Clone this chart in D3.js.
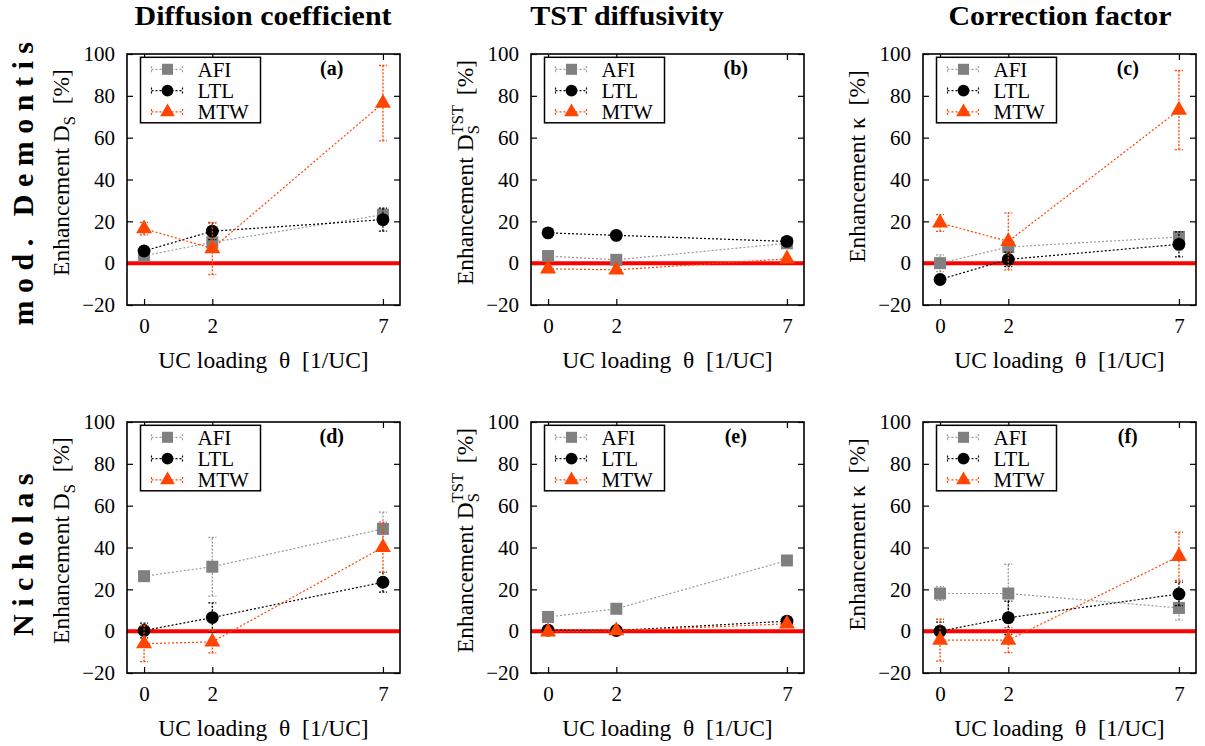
<!DOCTYPE html>
<html>
<head>
<meta charset="utf-8">
<script src="https://cdn.jsdelivr.net/npm/d3@7"></script>
<style>
  body { margin: 0; background: #fff; }
  svg text { font-family: "Liberation Serif", "Times New Roman", Times, serif; fill: #000; }
</style>
</head>
<body>
<svg id="fig" width="1205" height="746"></svg>
<script>
// ---- data ----------------------------------------------------------
const loadings = [0, 2, 7];                       // UC loading θ [1/UC]
const zeolites = ["AFI", "LTL", "MTW"];
const columnTitles = ["Diffusion coefficient", "TST diffusivity", "Correction factor"];
const rowTitles = ["mod. Demontis", "Nicholas"];
const panelTags = ["(a)", "(b)", "(c)", "(d)", "(e)", "(f)"];
const yTicks = [-20, 0, 20, 40, 60, 80, 100];

// enhancement in %, one row per zeolite (AFI, LTL, MTW), one column per loading
const demontisDs       = [[3.5, 10, 23.2], [5.8, 15.3, 20.8], [16.5, 7, 76.5]];
const demontisDsErr    = [[1.5, 2, 3], [1.5, 4, 5.5], [3, 12.5, 18]];
const demontisTst      = [[3.4, 1.6, 9.5], [14.5, 13.3, 10.4], [-2.7, -3.2, 2.1]];
const demontisTstErr   = [[0, 0, 0], [0, 0, 0], [0, 0, 0]];
const demontisKappa    = [[0, 7.7, 12.5], [-7.8, 1.8, 9], [19.2, 10.4, 73.2]];
const demontisKappaErr = [[4, 1.5, 2.5], [1, 3.5, 6], [4, 13.6, 18.9]];
const nicholasDs       = [[26.3, 30.8, 48.9], [0.3, 6.5, 23.4], [-6, -5.1, 40.1]];
const nicholasDsErr    = [[2, 14, 8], [3.5, 7, 4.7], [8.6, 5.3, 12]];
const nicholasTst      = [[6.8, 10.7, 33.8], [0.5, 0.3, 4.8], [-0.3, 0.2, 3.5]];
const nicholasTstErr   = [[0, 0, 0], [0, 0, 0], [0, 0, 0]];
const nicholasKappa    = [[18, 18, 11.1], [0, 6.4, 17.8], [-4.3, -4.3, 35.8]];
const nicholasKappaErr = [[3.3, 14, 5.8], [4.3, 8, 5.6], [10, 6, 11.5]];

const panelValues = [demontisDs, demontisTst, demontisKappa, nicholasDs, nicholasTst, nicholasKappa];
const panelErrors = [demontisDsErr, demontisTstErr, demontisKappaErr, nicholasDsErr, nicholasTstErr, nicholasKappaErr];

// ---- styling --------------------------------------------------------
const markerColor = { AFI: "#808080", LTL: "#000000", MTW: "#ff4500" };
const lineColor   = { AFI: "#9a9a9a", LTL: "#000000", MTW: "#ff4500" };
const markerShape = { AFI: d3.symbolSquare, LTL: d3.symbolCircle, MTW: d3.symbolTriangle };
const markerSize  = { AFI: 144, LTL: 130, MTW: 110 };

const colLeft = [127, 531, 923];
const colTitleX = [263, 627, 1060];
const rowTop = [54, 422];
const plotW = 273, plotH = 251;
const labelSize = 23.5;

const svg = d3.select("#fig");

// column titles
columnTitles.forEach((t, c) => {
  svg.append("text")
    .attr("transform", `translate(${colTitleX[c]},25) scale(1.07,1)`)
    .attr("text-anchor", "middle")
    .attr("font-size", 28).attr("font-weight", "bold")
    .text(t);
});

// row titles (spaced, rotated)
const rowTitleY = [180, 551];
rowTitles.forEach((t, r) => {
  svg.append("text")
    .attr("transform", `translate(33,${rowTitleY[r]}) rotate(-90)`)
    .attr("text-anchor", "middle")
    .attr("font-size", 30).attr("font-weight", "bold")
    .attr("letter-spacing", 7.5)
    .text(t);
});

function yLabel(g, kind, cx, cy) {
  const t = g.append("text")
    .attr("transform", `translate(${cx},${cy}) rotate(-90)`)
    .attr("text-anchor", "middle")
    .attr("font-size", labelSize)
    .style("white-space", "pre");
  if (kind === 0) {
    t.append("tspan").text("Enhancement D");
    t.append("tspan").attr("dy", 6).attr("font-size", 16.5).text("S");
    t.append("tspan").attr("dy", -6).text("  [%]");
  } else if (kind === 1) {
    t.append("tspan").text("Enhancement D");
    t.append("tspan").attr("dy", 6).attr("font-size", 16.5).text("S");
    t.append("tspan").attr("dx", -9.2).attr("dy", -16).attr("font-size", 16.5).text("TST");
    t.append("tspan").attr("dy", 10).attr("dx", 4).text(" [%]");
  } else {
    t.text("Enhancement κ  [%]");
  }
}

const labelShift = [-7, -7, -13];

for (let p = 0; p < 6; p++) {
  const row = Math.floor(p / 3), col = p % 3;
  const left = colLeft[col], top = rowTop[row];
  const g = svg.append("g");

  const x = d3.scaleLinear().domain([-0.5, 7.5]).range([left, left + plotW]);
  const y = d3.scaleLinear().domain([-20, 100]).range([top + plotH, top]);

  // axes with inward ticks on all four sides
  const fontStyle = sel => sel.selectAll("text")
    .attr("font-size", 21)
    .style("font-family", '"Liberation Serif", "Times New Roman", serif');

  g.append("g").attr("transform", `translate(${left},0)`)
    .call(d3.axisLeft(y).tickValues(yTicks).tickSize(-6).tickSizeOuter(0).tickPadding(12))
    .call(fontStyle);
  g.append("g").attr("transform", `translate(${left + plotW},0)`)
    .call(d3.axisRight(y).tickValues(yTicks).tickSize(-6).tickSizeOuter(0).tickFormat(""));
  g.append("g").attr("transform", `translate(0,${top + plotH})`)
    .call(d3.axisBottom(x).tickValues(loadings).tickSize(-6).tickSizeOuter(0).tickPadding(13))
    .call(fontStyle);
  g.append("g").attr("transform", `translate(0,${top})`)
    .call(d3.axisTop(x).tickValues(loadings).tickSize(-6).tickSizeOuter(0).tickFormat(""));
  g.selectAll(".domain").remove();
  g.selectAll(".tick line").attr("stroke", "#000").attr("stroke-width", 1.2);
  g.selectAll(".tick text").attr("fill", "#000");

  // zero reference
  g.append("line")
    .attr("x1", left).attr("x2", left + plotW)
    .attr("y1", y(0)).attr("y2", y(0))
    .attr("stroke", "#ff0000").attr("stroke-width", 4);

  // frame
  g.append("rect")
    .attr("x", left).attr("y", top).attr("width", plotW).attr("height", plotH)
    .attr("fill", "none").attr("stroke", "#000").attr("stroke-width", 1.6);

  // legend
  const lx = left + 13.5, ly = top + 3.3;
  g.append("rect")
    .attr("x", lx).attr("y", ly).attr("width", 120).attr("height", 65.5)
    .attr("fill", "#fff").attr("stroke", "#000").attr("stroke-width", 1.5);

  // series
  zeolites.forEach((z, i) => {
    const vals = panelValues[p][i], errs = panelErrors[p][i];
    const pts = loadings.map((l, j) => ({ l, v: vals[j], e: errs[j] }));

    g.append("path")
      .datum(pts)
      .attr("d", d3.line().x(d => x(d.l)).y(d => y(d.v)))
      .attr("fill", "none").attr("stroke", lineColor[z])
      .attr("stroke-width", 1.2).attr("stroke-dasharray", "2,2");

    pts.filter(d => d.e > 0).forEach(d => {
      const eb = g.append("g")
        .attr("stroke", lineColor[z]).attr("stroke-width", 1.3)
        .attr("stroke-dasharray", "2,1.5").attr("fill", "none");
      eb.append("line").attr("x1", x(d.l)).attr("x2", x(d.l))
        .attr("y1", y(d.v - d.e)).attr("y2", y(d.v + d.e));
      [d.v - d.e, d.v + d.e].forEach(v => {
        eb.append("line").attr("x1", x(d.l) - 4).attr("x2", x(d.l) + 4)
          .attr("y1", y(v)).attr("y2", y(v));
      });
    });

    g.selectAll(null).data(pts).enter().append("path")
      .attr("transform", d => `translate(${x(d.l)},${y(d.v)})`)
      .attr("d", d3.symbol().type(markerShape[z]).size(markerSize[z]))
      .attr("fill", markerColor[z]);

    // legend entry
    const ey = ly + 12 + i * 21.3;
    const le = g.append("g").attr("stroke", lineColor[z]).attr("stroke-width", 1.2)
      .attr("stroke-dasharray", "2,2");
    le.append("line").attr("x1", lx + 11).attr("x2", lx + 42).attr("y1", ey).attr("y2", ey);
    [lx + 11, lx + 42].forEach(cx => {
      le.append("line").attr("x1", cx).attr("x2", cx).attr("y1", ey - 3).attr("y2", ey + 3)
        .attr("stroke-dasharray", null);
    });
    g.append("path")
      .attr("transform", `translate(${lx + 27},${ey})`)
      .attr("d", d3.symbol().type(markerShape[z]).size(markerSize[z] * 0.85))
      .attr("fill", markerColor[z]);
    g.append("text")
      .attr("x", lx + 57).attr("y", ey).attr("dy", "0.35em")
      .attr("font-size", 21)
      .text(z);
  });

  // panel tag
  g.append("text")
    .attr("x", x(5.5)).attr("y", top + 21)
    .attr("text-anchor", "middle")
    .attr("font-size", 20).attr("font-weight", "bold")
    .text(panelTags[p]);

  // axis titles
  yLabel(g, col, left - 58, top + plotH / 2 + labelShift[col]);
  g.append("text")
    .attr("x", left + plotW / 2).attr("y", top + plotH + 63)
    .attr("text-anchor", "middle")
    .attr("font-size", labelSize)
    .style("white-space", "pre")
    .text("UC loading  θ  [1/UC]");
}
</script>
</body>
</html>
